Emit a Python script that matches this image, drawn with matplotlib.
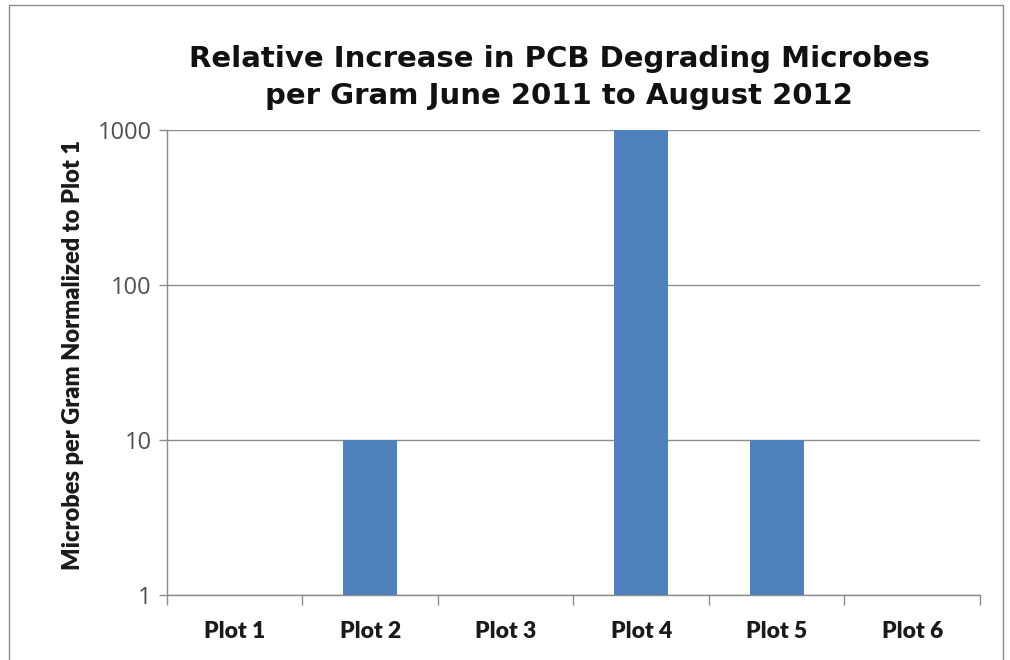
import matplotlib
matplotlib.use("Agg")
import matplotlib.pyplot as plt
from matplotlib.patches import Rectangle
from matplotlib.ticker import FixedLocator, NullLocator, FixedFormatter
import numpy as np

# Data
plots = ["Plot 1", "Plot 2", "Plot 3", "Plot 4", "Plot 5", "Plot 6"]
relative_increase = [1, 10, 1, 1000, 10, 1]
y_ticks = [1, 10, 100, 1000]
y_tick_labels = ["1", "10", "100", "1000"]

bar_color = "#4F81BD"
grid_color = "#8C8C8C"

fig = plt.figure(figsize=(10.1, 6.6), dpi=100)
fig.patches.append(Rectangle((0.009, -0.02), 0.984, 1.012, transform=fig.transFigure,
                             fill=False, edgecolor="#8C8C8C", linewidth=1.0))

ax = fig.add_axes([0.1653, 0.0985, 0.8050, 0.7045])
x = np.arange(len(plots))
ax.bar(x, relative_increase, width=0.4, color=bar_color, zorder=3)

ax.set_yscale("log")
ax.set_ylim(1, 1000)
ax.set_xlim(-0.5, len(plots) - 0.5)

ax.yaxis.set_major_locator(FixedLocator(y_ticks))
ax.yaxis.set_major_formatter(FixedFormatter(y_tick_labels))
ax.yaxis.set_minor_locator(NullLocator())
ax.grid(axis="y", color=grid_color, linewidth=1.0, zorder=0)

# Category labels centred, tick marks at category boundaries
ax.set_xticks(x)
ax.set_xticklabels(plots, fontfamily="Lato", fontweight="heavy", fontsize=16.5, color="#1A1A1A")
ax.tick_params(axis="x", which="major", length=0, pad=19)
ax.set_xticks(np.arange(-0.5, len(plots)), minor=True)
ax.tick_params(axis="x", which="minor", length=7, color=grid_color, width=1.0)

ax.tick_params(axis="y", which="major", length=6, color=grid_color, width=1.0,
               labelsize=17, labelcolor="#505050", pad=5)
for lbl in ax.get_yticklabels():
    lbl.set_fontfamily("Open Sans")

for side in ["top", "right"]:
    ax.spines[side].set_visible(False)
for side in ["left", "bottom"]:
    ax.spines[side].set_color(grid_color)
    ax.spines[side].set_linewidth(1.0)

ax.set_ylabel("Microbes per Gram Normalized to Plot 1", fontfamily="Lato",
              fontweight="heavy", fontsize=17, color="#1A1A1A")
ax.yaxis.set_label_coords(-0.102, 0.516)

fig.text(0.5535, 0.882, "Relative Increase in PCB Degrading Microbes\nper Gram June 2011 to August 2012",
         ha="center", va="center", fontfamily="DejaVu Sans", fontweight="bold",
         fontsize=21, linespacing=1.4, color="#111111")

fig.savefig("out.png", dpi=100, facecolor="white")
